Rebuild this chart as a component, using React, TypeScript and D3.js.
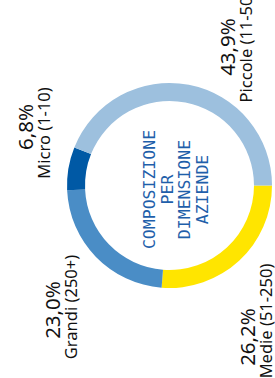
import React from "react";
import * as d3 from "d3";

const categories = ["Medie (51-250)", "Grandi (250+)", "Micro (1-10)", "Piccole (11-50)"];
const values = [26.2, 23.0, 6.8, 43.9];
const valueLabels = ["26,2%", "23,0%", "6,8%", "43,9%"];
const colors = ["#FFE500", "#4A8DC6", "#0059A5", "#9DC0DE"];
const titleLines = ["COMPOSIZIONE", "PER", "DIMENSIONE", "AZIENDE"];

// label layout: x = value baseline, vy = value centre, cy = category centre (screen coords)
const labelLayout = [
  { x: 255, vy: 337, cy: 321 },
  { x: 60, vy: 310, cy: 307 },
  { x: 33, vy: 127, cy: 133 },
  { x: 235, vy: 47, cy: 47 },
];

const W = 275;
const H = 378;
const cx = 169.5;
const cy = 185.5;
const outerR = 102.5;
const innerR = 84.5;
const labelFont = "'Liberation Sans Narrow', 'Arial Narrow', 'Noto Sans', sans-serif";

export default function App() {
  const pie = d3
    .pie<number>()
    .sort(null)
    .value((d) => d)
    .startAngle(Math.PI / 2)
    .endAngle(Math.PI / 2 + 2 * Math.PI);
  const arcs = pie(values);
  const arc = d3.arc<d3.PieArcDatum<number>>().innerRadius(innerR).outerRadius(outerR);

  return (
    <svg
      width={W}
      height={H}
      style={{ position: "fixed", left: 0, top: 0, background: "#fff" }}
    >
      <g transform={`translate(${cx},${cy})`}>
        {arcs.map((a, i) => (
          <path key={i} d={arc(a) || ""} fill={colors[i]} />
        ))}
      </g>
      <g transform={`translate(${cx + 6},${cy + 4}) rotate(-90)`}>
        {titleLines.map((t, i) => (
          <text
            key={i}
            x={0}
            y={(i - 1.5) * 17.5 + 6}
            textAnchor="middle"
            fontFamily="DejaVu Sans Mono"
            fontSize={16.5}
            fill="#1F5FAA"
          >
            {t}
          </text>
        ))}
      </g>
      {labelLayout.map((p, i) => (
        <g key={i}>
          <text
            transform={`translate(${p.x},${p.vy}) rotate(-90)`}
            textAnchor="middle"
            fontFamily={labelFont}
            fontSize={20.5}
            fill="#111"
          >
            {valueLabels[i]}
          </text>
          <text
            transform={`translate(${p.x + 17},${p.cy}) rotate(-90)`}
            textAnchor="middle"
            fontFamily={labelFont}
            fontSize={16.5}
            fill="#111"
          >
            {categories[i]}
          </text>
        </g>
      ))}
    </svg>
  );
}
